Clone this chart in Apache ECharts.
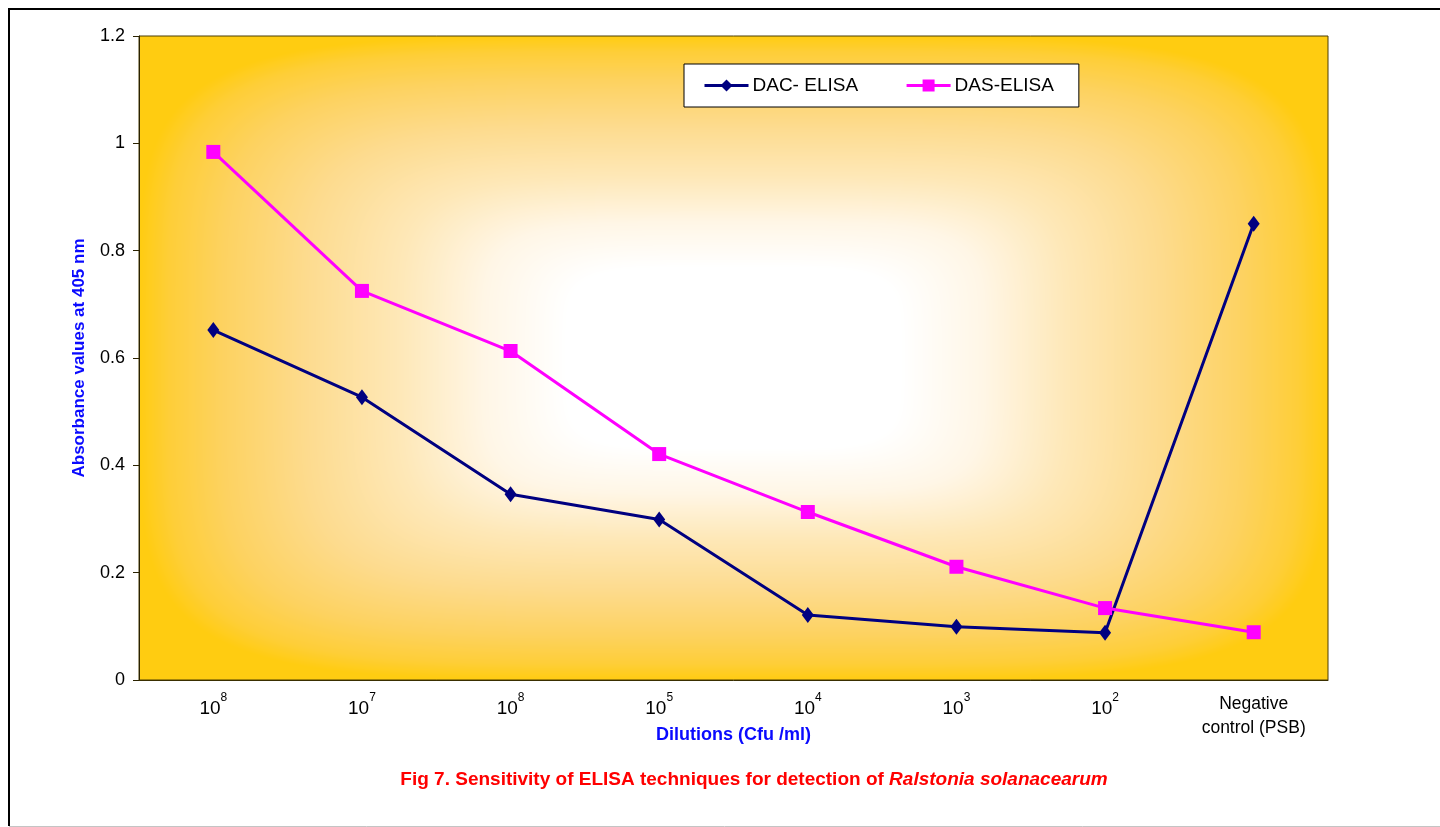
<!DOCTYPE html>
<html>
<head>
<meta charset="utf-8">
<title>Sensitivity of ELISA techniques</title>
<script src="https://cdn.jsdelivr.net/npm/echarts@6/dist/echarts.min.js"></script>
<style>
  html, body { margin: 0; padding: 0; background: #ffffff; }
  #chart { width: 1440px; height: 827px; }
</style>
</head>
<body>
<div id="chart"></div>
<script>
// Dilution levels (x axis), "^" marks the exponent of 10
const categories = ['10^8', '10^7', '10^8', '10^5', '10^4', '10^3', '10^2', 'Negative\ncontrol (PSB)'];
// Absorbance readings at 405 nm
const dacElisa = [0.652, 0.527, 0.346, 0.299, 0.121, 0.099, 0.088, 0.850];
const dasElisa = [0.984, 0.725, 0.613, 0.421, 0.313, 0.211, 0.134, 0.089];
const seriesNames = ['DAC- ELISA', 'DAS-ELISA'];
const yRange = { min: 0, max: 1.2, step: 0.2 };

const FONT = '"Liberation Sans", Arial, Helvetica, sans-serif';
const GRID = { left: 139, top: 36, width: 1189, height: 644 };

// Rounded-rectangle "from centre" fill: white core fading to golden yellow at the edges
function buildBackdrop(w, h) {
  const stops = [
    [0.00, [255, 255, 255]],
    [0.28, [255, 255, 255]],
    [0.42, [255, 246, 230]],
    [0.56, [254, 232, 184]],
    [0.72, [253, 219, 142]],
    [0.86, [253, 210, 96]],
    [0.95, [254, 206, 56]],
    [1.00, [255, 204, 17]]
  ];
  const P = 5;
  const cv = document.createElement('canvas');
  cv.width = w; cv.height = h;
  const ctx = cv.getContext('2d');
  const img = ctx.createImageData(w, h);
  const hw = w / 2, hh = h / 2;
  for (let y = 0; y < h; y++) {
    const dy = Math.abs(y + 0.5 - hh) / hh;
    for (let x = 0; x < w; x++) {
      const dx = Math.abs(x + 0.5 - hw) / hw;
      const t = Math.min(1, Math.pow(Math.pow(dx, P) + Math.pow(dy, P), 1 / P));
      let i = 1;
      while (i < stops.length - 1 && stops[i][0] < t) i++;
      const a = stops[i - 1], b = stops[i];
      const f = Math.min(1, Math.max(0, (t - a[0]) / (b[0] - a[0] || 1)));
      const p = (y * w + x) * 4;
      img.data[p]     = a[1][0] + (b[1][0] - a[1][0]) * f;
      img.data[p + 1] = a[1][1] + (b[1][1] - a[1][1]) * f;
      img.data[p + 2] = a[1][2] + (b[1][2] - a[1][2]) * f;
      img.data[p + 3] = 255;
    }
  }
  ctx.putImageData(img, 0, 0);
  return cv;
}

const chart = echarts.init(document.getElementById('chart'), null, { renderer: 'canvas' });

const option = {
  animation: false,
  backgroundColor: '#ffffff',
  textStyle: { fontFamily: FONT },
  grid: {
    left: GRID.left, top: GRID.top, width: GRID.width, height: GRID.height,
    show: true, backgroundColor: 'transparent', borderColor: '#4a3d05', borderWidth: 1
  },
  legend: {
    left: 684, top: 64,
    data: seriesNames,
    backgroundColor: '#ffffff',
    borderColor: '#000000', borderWidth: 1, borderRadius: 0,
    padding: [12, 25, 12, 19],
    itemGap: 47, itemWidth: 44, itemHeight: 15,
    lineStyle: { width: 3 },
    textStyle: { fontFamily: FONT, fontSize: 19, color: '#000000', padding: [0, 0, 0, -1] }
  },
  xAxis: {
    type: 'category',
    data: categories,
    boundaryGap: true,
    z: 4,
    axisLine: { show: true, lineStyle: { color: '#3a2f00', width: 1 } },
    axisTick: { show: false },
    splitLine: { show: false },
    axisLabel: {
      interval: 0, margin: 12, color: '#000000', fontFamily: FONT,
      formatter: function (v) {
        if (v.indexOf('^') >= 0) {
          const parts = v.split('^');
          return '{b|' + parts[0] + '}{s|' + parts[1] + '}';
        }
        return '{n|' + v.split('\n').join('}\n{n|') + '}';
      },
      rich: {
        b: { fontSize: 19, lineHeight: 34, color: '#000000', fontFamily: FONT },
        s: { fontSize: 12, lineHeight: 20, verticalAlign: 'top', color: '#000000', fontFamily: FONT },
        n: { fontSize: 17.5, lineHeight: 24, color: '#000000', fontFamily: FONT, align: 'center' }
      }
    },
    name: 'Dilutions (Cfu /ml)',
    nameLocation: 'middle',
    nameGap: 46,
    nameMoveOverlap: false,
    nameTextStyle: { color: '#0a0aff', fontWeight: 'bold', fontSize: 18, fontFamily: FONT }
  },
  yAxis: {
    type: 'value',
    min: yRange.min, max: yRange.max, interval: yRange.step,
    z: 4,
    axisLine: { show: true, lineStyle: { color: '#2a2200', width: 1 } },
    axisTick: { show: true, length: 6, lineStyle: { color: '#2a2200' } },
    splitLine: { show: false },
    axisLabel: { margin: 14, fontSize: 18, color: '#000000', fontFamily: FONT },
    name: 'Absorbance values at 405 nm',
    nameLocation: 'middle',
    nameRotate: 90,
    nameGap: 51,
    nameMoveOverlap: false,
    nameTextStyle: { color: '#0a0aff', fontWeight: 'bold', fontSize: 17, fontFamily: FONT }
  },
  series: [
    {
      name: seriesNames[0],
      type: 'line',
      data: dacElisa,
      symbol: 'diamond',
      symbolSize: [12, 16],
      lineStyle: { color: '#000080', width: 3 },
      itemStyle: { color: '#000080' },
      z: 2
    },
    {
      name: seriesNames[1],
      type: 'line',
      data: dasElisa,
      symbol: 'rect',
      symbolSize: 14,
      lineStyle: { color: '#ff00ff', width: 3 },
      itemStyle: { color: '#ff00ff' },
      z: 3
    }
  ],
  graphic: {
    elements: [
      {
        type: 'image', left: GRID.left, top: GRID.top, z: -5, silent: true,
        style: { image: buildBackdrop(GRID.width, GRID.height), width: GRID.width, height: GRID.height }
      },
      {
        type: 'polyline', z: 10, silent: true,
        shape: { points: [[1442, 9], [9, 9], [9, 826]] },
        style: { stroke: '#000000', lineWidth: 2, fill: null }
      },
      {
        type: 'line', z: 10, silent: true,
        shape: { x1: 9, y1: 826.5, x2: 1440, y2: 826.5 },
        style: { stroke: '#c4c4c4', lineWidth: 1 }
      },
      {
        type: 'text', z: 10, silent: true,
        x: 754, y: 780,
        style: {
          text: '{r|Fig 7. Sensitivity of ELISA techniques for detection of }{i|Ralstonia solanacearum}',
          align: 'center', verticalAlign: 'middle',
          rich: {
            r: { fill: '#ff0000', fontWeight: 'bold', fontSize: 19, fontFamily: FONT },
            i: { fill: '#ff0000', fontWeight: 'bold', fontStyle: 'italic', fontSize: 19, fontFamily: FONT }
          }
        }
      }
    ]
  }
};

chart.setOption(option);
</script>
</body>
</html>
